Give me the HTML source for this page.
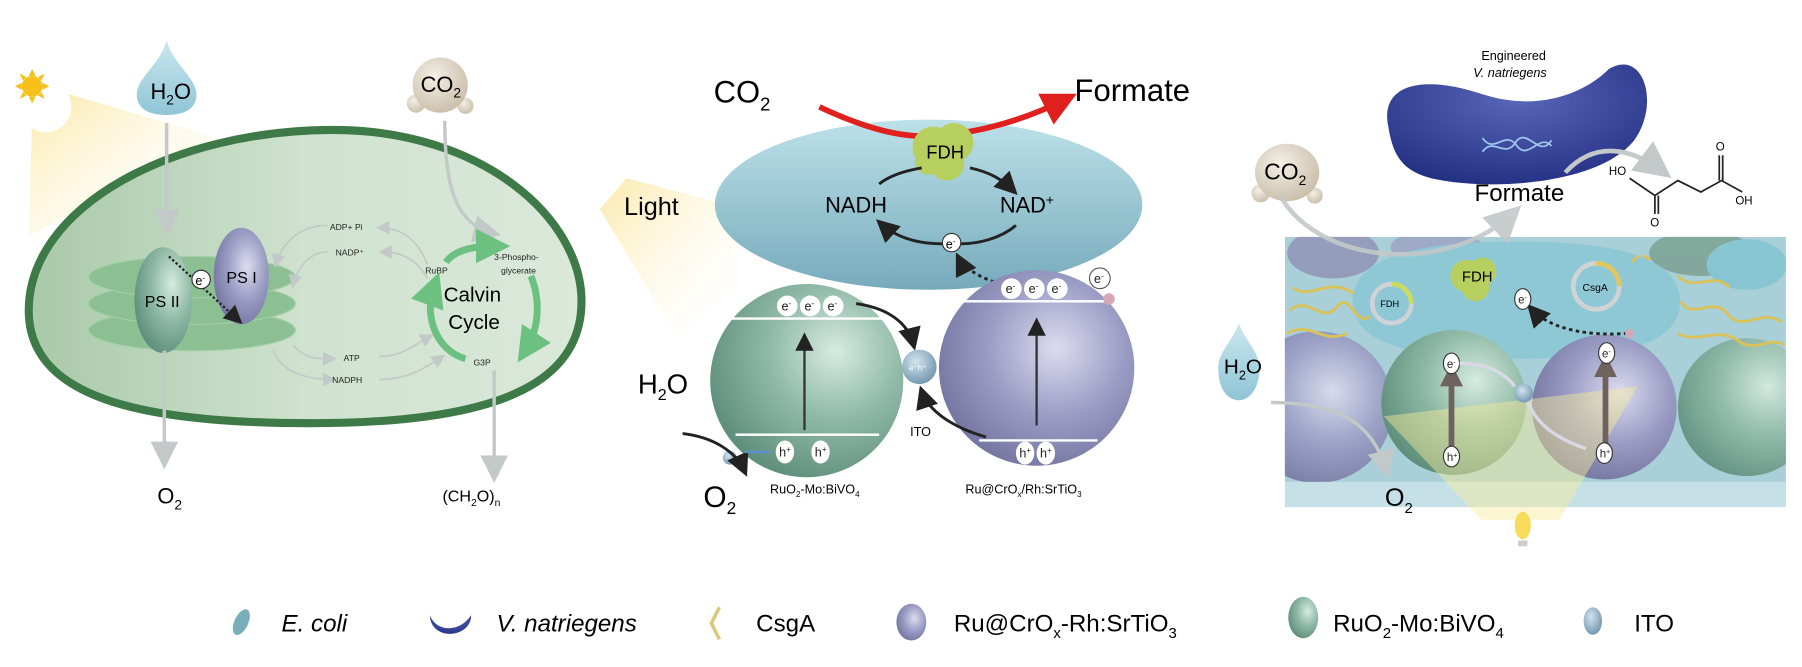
<!DOCTYPE html>
<html><head><meta charset="utf-8"><style>
html,body{margin:0;padding:0;background:#fff;}
svg{display:block;font-family:"Liberation Sans",sans-serif;}
</style></head><body>
<svg width="1802" height="667" viewBox="0 0 1568 580" preserveAspectRatio="none" xmlns="http://www.w3.org/2000/svg">
<defs>
<radialGradient id="gG" cx="0.65" cy="0.35" r="0.7"><stop offset="0" stop-color="#d6ebe0"/><stop offset="0.5" stop-color="#8fb9a6"/><stop offset="1" stop-color="#5f8f7c"/></radialGradient>
<radialGradient id="gP" cx="0.6" cy="0.4" r="0.7"><stop offset="0" stop-color="#dcdcef"/><stop offset="0.5" stop-color="#9a9cc4"/><stop offset="1" stop-color="#6e6f9a"/></radialGradient>
<radialGradient id="gB" cx="0.4" cy="0.35" r="0.7"><stop offset="0" stop-color="#d2e4ef"/><stop offset="1" stop-color="#6f93ad"/></radialGradient>
<linearGradient id="gC" x1="0" y1="0" x2="0" y2="1"><stop offset="0" stop-color="#b9dfe8"/><stop offset="1" stop-color="#6fa6b8"/></linearGradient>
<radialGradient id="gCO" cx="0.4" cy="0.35" r="0.7"><stop offset="0" stop-color="#f4efe6"/><stop offset="1" stop-color="#c9bda8"/></radialGradient>
<linearGradient id="gW" x1="0" y1="0" x2="0" y2="1"><stop offset="0" stop-color="#cbe7ef"/><stop offset="1" stop-color="#8fc5d6"/></linearGradient>
<linearGradient id="gL" x1="0" y1="0" x2="1" y2="1"><stop offset="0" stop-color="#fbe9a8"/><stop offset="1" stop-color="#fff" stop-opacity="0"/></linearGradient>
<linearGradient id="gCell" x1="0" y1="0" x2="1" y2="0"><stop offset="0" stop-color="#a9c9a8"/><stop offset="0.5" stop-color="#cfe2cf"/><stop offset="1" stop-color="#dbe9db"/></linearGradient>
<radialGradient id="gV" cx="0.5" cy="0.3" r="0.8"><stop offset="0" stop-color="#5866b8"/><stop offset="1" stop-color="#1e2a7e"/></radialGradient>
<clipPath id="panel"><rect x="1118" y="206" width="436" height="235"/></clipPath>
<marker id="aG" markerWidth="8" markerHeight="8" refX="6" refY="4" orient="auto"><path d="M0,0L8,4L0,8z" fill="#c3c9c9"/></marker>
<marker id="aK" markerWidth="8" markerHeight="8" refX="6" refY="4" orient="auto"><path d="M0,0L8,4L0,8z" fill="#222"/></marker>
<marker id="aR" markerWidth="6" markerHeight="6" refX="4" refY="3" orient="auto"><path d="M0,0L6,3L0,6z" fill="#e0201f"/></marker>
<marker id="aGr" markerWidth="5" markerHeight="5" refX="3" refY="2.5" orient="auto"><path d="M0,0L5,2.5L0,5z" fill="#6cc080"/></marker>
<marker id="aBr" markerWidth="4" markerHeight="4" refX="2" refY="2" orient="auto"><path d="M0,0L4,2L0,4z" fill="#6e625d"/></marker>
</defs>

<!-- LEFT PANEL -->
<polygon points="28,101 57,81 190,120 25,205" fill="url(#gL)"/>
<circle cx="40" cy="93" r="22" fill="#fff"/>
<g fill="#f6c21a"><circle cx="28" cy="75" r="9"/>
<path d="M28,60l3,6h-6zM28,90l3,-6h-6zM13,75l6,3v-6zM43,75l-6,3v-6zM17,64l6,3l-3,3zM39,86l-6,-3l3,-3zM39,64l-3,6l-3,-3zM17,86l3,-6l3,3z"/></g>
<path d="M145,35 C150,55 171,68 171,82 C171,95 160,100 145,100 C130,100 119,95 119,82 C119,68 140,55 145,35Z" fill="url(#gW)"/>
<text x="131" y="86" font-size="19">H<tspan font-size="12" dy="5">2</tspan><tspan dy="-5">O</tspan></text>
<circle cx="362" cy="90" r="8" fill="url(#gCO)"/><circle cx="405" cy="92" r="7" fill="url(#gCO)"/>
<circle cx="383" cy="74" r="24" fill="url(#gCO)"/>
<text x="366" y="80" font-size="19">CO<tspan font-size="12" dy="5">2</tspan></text>
<path d="M25,270 C25,180 150,113 290,113 C420,113 506,190 506,262 C506,335 430,368 270,368 C120,368 25,345 25,270Z" fill="url(#gCell)" stroke="#3e7a47" stroke-width="7"/>
<line x1="145" y1="107" x2="145" y2="200" stroke="#c3c9c9" stroke-width="3" marker-end="url(#aG)"/>
<path d="M387,105 C387,160 395,195 430,203" fill="none" stroke="#c3c9c9" stroke-width="3" marker-end="url(#aG)"/>
<g fill="#8cbf92" stroke="#a3cfa8" stroke-width="1"><ellipse cx="167" cy="287" rx="90" ry="18"/><ellipse cx="167" cy="264" rx="90" ry="18"/><ellipse cx="167" cy="241" rx="90" ry="18"/></g>
<ellipse cx="142" cy="261" rx="25" ry="46" fill="url(#gG)"/>
<ellipse cx="210" cy="240" rx="24" ry="42" fill="url(#gP)"/>
<text x="126" y="267" font-size="14">PS II</text>
<text x="197" y="246" font-size="14">PS I</text>
<line x1="147" y1="223" x2="208" y2="279" stroke="#222" stroke-width="2" stroke-dasharray="2,2" marker-end="url(#aK)"/>
<circle cx="175" cy="243" r="8" fill="#fff" stroke="#333"/><text x="170" y="248" font-size="11">e<tspan font-size="7" dy="-4">-</tspan></text>
<g fill="none" stroke="#c3c9c9" stroke-width="1.5" marker-end="url(#aG)">
<path d="M372,230 C360,200 340,198 330,198"/><path d="M372,242 C360,222 345,219 332,219"/>
<path d="M285,196 C260,196 245,212 240,230"/><path d="M285,219 C268,219 258,235 255,248"/>
<path d="M255,300 C265,312 275,312 290,312"/><path d="M238,305 C245,325 270,330 290,330"/>
<path d="M330,310 C350,310 360,300 375,292"/><path d="M330,330 C355,330 370,320 385,310"/>
</g>
<g font-size="7.5" fill="#222"><text x="287" y="200">ADP+ Pi</text><text x="292" y="222">NADP⁺</text><text x="299" y="314">ATP</text><text x="289" y="333">NADPH</text>
<text x="370" y="238">RuBP</text><text x="430" y="226">3-Phospho-</text><text x="436" y="238">glycerate</text><text x="412" y="318">G3P</text></g>
<g fill="none" stroke="#6cc080" stroke-width="6" marker-end="url(#aGr)">
<path d="M388,228 C395,218 410,214 432,214"/><path d="M462,240 C470,260 470,285 457,305"/><path d="M405,312 C380,305 368,275 378,248"/></g>
<text x="386" y="262" font-size="18">Calvin</text><text x="390" y="286" font-size="18">Cycle</text>
<line x1="143" y1="305" x2="143" y2="402" stroke="#c3c9c9" stroke-width="3" marker-end="url(#aG)"/>
<line x1="430" y1="322" x2="430" y2="414" stroke="#c3c9c9" stroke-width="3" marker-end="url(#aG)"/>
<text x="137" y="438" font-size="19">O<tspan font-size="12" dy="5">2</tspan></text>
<text x="385" y="436" font-size="14">(CH<tspan font-size="9" dy="4">2</tspan><tspan dy="-4">O)</tspan><tspan font-size="9" dy="4">n</tspan></text>

<!-- MIDDLE PANEL -->
<polygon points="522,182 545,155 640,180 640,250 589,293" fill="url(#gL)"/>
<text x="543" y="187" font-size="22">Light</text>
<text x="621" y="89" font-size="27">CO<tspan font-size="16" dy="7">2</tspan></text>
<text x="935" y="88" font-size="27">Formate</text>
<ellipse cx="808" cy="178" rx="186" ry="74" fill="url(#gC)" opacity="0.95"/>
<path d="M713,93 C760,115 790,120 815,118 C860,115 900,100 928,86" fill="none" stroke="#e0201f" stroke-width="5" marker-end="url(#aR)"/>
<g fill="#b7cf5f"><circle cx="812" cy="128" r="18"/><circle cx="830" cy="124" r="17"/><circle cx="824" cy="142" r="15"/><circle cx="808" cy="140" r="12"/></g>
<text x="806" y="138" font-size="16">FDH</text>
<text x="718" y="185" font-size="19">NADH</text>
<text x="870" y="185" font-size="19">NAD<tspan font-size="12" dy="-7">+</tspan></text>
<g fill="none" stroke="#222" stroke-width="2.5">
<path d="M765,160 C775,152 790,148 802,146"/>
<path d="M844,146 C862,150 872,156 882,166" marker-end="url(#aK)"/>
<path d="M884,196 C870,208 850,212 836,212"/>
<path d="M820,212 C795,212 778,205 766,194" marker-end="url(#aK)"/>
<path d="M865,245 C850,240 838,232 834,224" stroke-dasharray="3,3" marker-end="url(#aK)"/>
</g>
<circle cx="828" cy="211" r="8" fill="#fff" stroke="#333"/><text x="823" y="216" font-size="11">e<tspan font-size="7" dy="-4">-</tspan></text>
<circle cx="702" cy="331" r="84" fill="url(#gG)"/>
<circle cx="902" cy="320" r="85" fill="url(#gP)"/>
<line x1="636" y1="277" x2="770" y2="277" stroke="#fff" stroke-width="2"/>
<line x1="640" y1="378" x2="765" y2="378" stroke="#fff" stroke-width="2"/>
<line x1="838" y1="262" x2="966" y2="262" stroke="#fff" stroke-width="2"/>
<line x1="852" y1="383" x2="955" y2="383" stroke="#fff" stroke-width="2"/>
<line x1="700" y1="374" x2="700" y2="293" stroke="#333" stroke-width="2" marker-end="url(#aK)"/>
<line x1="902" y1="370" x2="902" y2="280" stroke="#333" stroke-width="2" marker-end="url(#aK)"/>
<g font-size="11" fill="#222">
<g><circle cx="685" cy="266" r="9" fill="#fff"/><text x="680" y="270">e<tspan font-size="7" dy="-4">-</tspan></text></g>
<g><circle cx="705" cy="266" r="9" fill="#fff"/><text x="700" y="270">e<tspan font-size="7" dy="-4">-</tspan></text></g>
<g><circle cx="725" cy="266" r="9" fill="#fff"/><text x="720" y="270">e<tspan font-size="7" dy="-4">-</tspan></text></g>
<g><circle cx="880" cy="251" r="9" fill="#fff"/><text x="875" y="255">e<tspan font-size="7" dy="-4">-</tspan></text></g>
<g><circle cx="900" cy="251" r="9" fill="#fff"/><text x="895" y="255">e<tspan font-size="7" dy="-4">-</tspan></text></g>
<g><circle cx="920" cy="251" r="9" fill="#fff"/><text x="915" y="255">e<tspan font-size="7" dy="-4">-</tspan></text></g>
<g><circle cx="957" cy="242" r="9" fill="#fff" stroke="#555"/><text x="952" y="246">e<tspan font-size="7" dy="-4">-</tspan></text></g>
<g><ellipse cx="683" cy="393" rx="8" ry="10" fill="#fff"/><text x="678" y="397">h<tspan font-size="7" dy="-4">+</tspan></text></g>
<g><ellipse cx="714" cy="393" rx="8" ry="10" fill="#fff"/><text x="709" y="397">h<tspan font-size="7" dy="-4">+</tspan></text></g>
<g><ellipse cx="892" cy="394" rx="8" ry="10" fill="#fff"/><text x="887" y="398">h<tspan font-size="7" dy="-4">+</tspan></text></g>
<g><ellipse cx="910" cy="394" rx="8" ry="10" fill="#fff"/><text x="905" y="398">h<tspan font-size="7" dy="-4">+</tspan></text></g>
</g>
<circle cx="965" cy="260" r="5" fill="#d6a8b4"/>
<circle cx="800" cy="319" r="15" fill="url(#gB)"/>
<text x="791" y="322" font-size="7" fill="#fff">e⁻h⁺</text>
<path d="M745,264 C772,268 790,280 795,300" fill="none" stroke="#222" stroke-width="2.5" marker-end="url(#aK)"/>
<path d="M858,380 C830,372 808,358 802,340" fill="none" stroke="#222" stroke-width="2.5" marker-end="url(#aK)"/>
<text x="792" y="379" font-size="11">ITO</text>
<text x="555" y="342" font-size="24">H<tspan font-size="14" dy="6">2</tspan><tspan dy="-6">O</tspan></text>
<circle cx="635" cy="398" r="6" fill="url(#gB)"/>
<path d="M594,377 C620,380 640,392 648,410" fill="none" stroke="#222" stroke-width="2.5" marker-end="url(#aK)"/>
<line x1="648" y1="393" x2="670" y2="393" stroke="#5b8fd0" stroke-width="2"/>
<text x="612" y="441" font-size="26">O<tspan font-size="15" dy="6">2</tspan></text>
<text x="670" y="429" font-size="11">RuO<tspan font-size="7" dy="3">2</tspan><tspan dy="-3">-Mo:BiVO</tspan><tspan font-size="7" dy="3">4</tspan></text>
<text x="840" y="429" font-size="11">Ru@CrO<tspan font-size="7" dy="3">x</tspan><tspan dy="-3">/Rh:SrTiO</tspan><tspan font-size="7" dy="3">3</tspan></text>

<!-- RIGHT PANEL -->
<text x="1289" y="52" font-size="11">Engineered</text>
<text x="1282" y="67" font-size="11" font-style="italic">V. natriegens</text>
<path d="M1208,110 C1200,72 1240,65 1290,82 C1340,98 1380,80 1400,60 C1430,42 1445,90 1422,122 C1392,160 1300,166 1250,156 C1220,150 1212,135 1208,110Z" fill="url(#gV)"/>
<path d="M1290,120 C1300,135 1310,112 1320,127 C1330,140 1340,115 1350,127" fill="none" stroke="#9fc8ee" stroke-width="1.5"/>
<path d="M1290,132 C1300,118 1310,140 1320,122 C1330,112 1340,138 1350,122" fill="none" stroke="#9fc8ee" stroke-width="1.5"/>
<circle cx="1097" cy="168" r="8" fill="url(#gCO)"/><circle cx="1144" cy="170" r="7" fill="url(#gCO)"/>
<ellipse cx="1120" cy="150" rx="28" ry="25" fill="url(#gCO)"/>
<text x="1100" y="156" font-size="20">CO<tspan font-size="12" dy="5">2</tspan></text>
<text x="1283" y="175" font-size="21">Formate</text>
<path d="M1362,150 C1385,125 1415,125 1448,150" fill="none" stroke="#c3c9c9" stroke-width="4" marker-end="url(#aG)"/>
<g stroke="#222" stroke-width="1.5" fill="none"><polyline points="1418,155 1440,170 1460,157 1480,167 1498,157 1516,167"/>
<line x1="1440" y1="170" x2="1440" y2="186"/><line x1="1443" y1="170" x2="1443" y2="186"/>
<line x1="1496" y1="157" x2="1496" y2="135"/><line x1="1499" y1="157" x2="1499" y2="135"/></g>
<g font-size="10"><text x="1400" y="152">HO</text><text x="1510" y="178">OH</text><text x="1493" y="131">O</text><text x="1436" y="197">O</text></g>

<g clip-path="url(#panel)">
<rect x="1118" y="206" width="436" height="235" fill="#a9cfd8"/>
<g opacity="0.8"><ellipse cx="1160" cy="220" rx="40" ry="22" fill="#8f90b5"/><ellipse cx="1480" cy="220" rx="45" ry="20" fill="#7a9e8e"/><ellipse cx="1520" cy="230" rx="35" ry="22" fill="#7fc3d1"/><ellipse cx="1250" cy="215" rx="40" ry="15" fill="#9ba0c2"/></g>
<circle cx="1146" cy="354" r="66" fill="url(#gP)" opacity="0.9"/>
<circle cx="1520" cy="354" r="60" fill="url(#gG)" opacity="0.9"/>
<path d="M1177,262 C1177,225 1230,210 1320,210 C1410,210 1462,225 1462,262 C1462,300 1410,312 1320,312 C1230,312 1177,300 1177,262Z" fill="#8fc8d5"/>
<g fill="none" stroke="#d9c25a" stroke-width="2.5"><path d="M1122,270 C1140,255 1150,285 1165,265 C1175,255 1180,285 1192,275"/><path d="M1120,290 C1140,278 1150,300 1172,290"/><path d="M1125,250 C1140,262 1155,240 1178,255"/><path d="M1462,262 C1475,280 1490,255 1505,275 C1518,288 1532,268 1550,280"/><path d="M1460,290 C1480,300 1495,282 1515,298 C1530,306 1540,292 1552,300"/><path d="M1460,240 C1475,255 1490,235 1505,250"/><path d="M1420,228 l6,-6 M1430,222 l6,4"/></g>
<circle cx="1265" cy="350" r="63" fill="url(#gG)"/>
<circle cx="1396" cy="354" r="63" fill="url(#gP)"/>
<rect x="1118" y="419" width="436" height="22" fill="#c6e0e8"/>
</g>
<polygon points="1289,452 1357,452 1425,336 1204,362" fill="#f6ec9a" opacity="0.45"/>
<circle cx="1211" cy="264" r="17" fill="none" stroke="#d0d3d6" stroke-width="4"/><path d="M1211,247 A17,17 0 0 1 1228,264" fill="none" stroke="#cbdc5a" stroke-width="4"/>
<text x="1201" y="267" font-size="8">FDH</text>
<g fill="#b7cf5f"><circle cx="1276" cy="240" r="14"/><circle cx="1290" cy="236" r="12"/><circle cx="1284" cy="250" r="12"/></g>
<text x="1272" y="245" font-size="13">FDH</text>
<circle cx="1389" cy="249" r="20" fill="none" stroke="#d0d3d6" stroke-width="4"/><path d="M1389,229 A20,20 0 0 1 1409,249" fill="none" stroke="#e2c65a" stroke-width="4"/>
<text x="1377" y="253" font-size="9">CsgA</text>
<path d="M1416,290 C1385,292 1350,288 1332,268" fill="none" stroke="#222" stroke-width="2.5" stroke-dasharray="3,3" marker-end="url(#aK)"/>
<circle cx="1418" cy="290" r="4" fill="#d6a8b4"/>
<line x1="1263" y1="388" x2="1263" y2="326" stroke="#6e625d" stroke-width="5" marker-end="url(#aBr)"/>
<line x1="1397" y1="386" x2="1397" y2="318" stroke="#6e625d" stroke-width="5" marker-end="url(#aBr)"/>
<g font-size="10" fill="#222">
<g><ellipse cx="1325" cy="260" rx="7" ry="9" fill="#fff" stroke="#333"/><text x="1321" y="264">e<tspan font-size="6" dy="-3">-</tspan></text></g>
<g><ellipse cx="1263" cy="316" rx="7" ry="9" fill="#fff" stroke="#333"/><text x="1259" y="320">e<tspan font-size="6" dy="-3">-</tspan></text></g>
<g><ellipse cx="1398" cy="307" rx="7" ry="9" fill="#fff" stroke="#333"/><text x="1394" y="311">e<tspan font-size="6" dy="-3">-</tspan></text></g>
<g><ellipse cx="1263" cy="397" rx="7" ry="9" fill="#fff" stroke="#333"/><text x="1259" y="401">h<tspan font-size="6" dy="-3">+</tspan></text></g>
<g><ellipse cx="1396" cy="394" rx="7" ry="9" fill="#fff" stroke="#333"/><text x="1392" y="398">h<tspan font-size="6" dy="-3">+</tspan></text></g>
</g>
<circle cx="1326" cy="342" r="8" fill="url(#gB)"/>
<path d="M1270,316 C1295,316 1310,325 1318,336" fill="none" stroke="#d8d8e6" stroke-width="3"/>
<path d="M1380,390 C1350,380 1335,365 1330,350" fill="none" stroke="#d8d8e6" stroke-width="3"/>
<path d="M1115,172 C1150,230 1260,240 1318,184" fill="none" stroke="#c3c9c9" stroke-width="4" opacity="0.9" marker-end="url(#aG)"/>
<path d="M1078,281 C1083,296 1096,306 1096,320 C1096,338 1087,348 1078,348 C1068,348 1060,338 1060,320 C1060,306 1073,296 1078,281Z" fill="url(#gW)"/>
<text x="1065" y="325" font-size="18">H<tspan font-size="11" dy="5">2</tspan><tspan dy="-5">O</tspan></text>
<path d="M1106,350 C1160,350 1195,365 1206,410" fill="none" stroke="#c3c9c9" stroke-width="3" marker-end="url(#aG)"/>
<text x="1205" y="440" font-size="22">O<tspan font-size="13" dy="6">2</tspan></text>
<ellipse cx="1325" cy="457" rx="7" ry="12" fill="#f6dc5a"/>
<rect x="1321" y="470" width="8" height="5" fill="#ccc"/>

<!-- LEGEND -->
<ellipse cx="210" cy="541" rx="6" ry="12" fill="#79aeb8" transform="rotate(25 210 541)"/>
<text x="245" y="549" font-size="21" font-style="italic">E. coli</text>
<path d="M374,535 C380,550 400,550 410,535 C410,555 375,558 374,535Z" fill="url(#gV)"/>
<text x="432" y="549" font-size="21" font-style="italic">V. natriegens</text>
<path d="M626,528 L619,542 L626,556" fill="none" stroke="#d9c97a" stroke-width="3"/>
<text x="658" y="549" font-size="21">CsgA</text>
<ellipse cx="793" cy="541" rx="13" ry="16" fill="url(#gP)"/>
<text x="830" y="549" font-size="21">Ru@CrO<tspan font-size="13" dy="6">x</tspan><tspan dy="-6">-Rh:SrTiO</tspan><tspan font-size="13" dy="6">3</tspan></text>
<ellipse cx="1134" cy="537" rx="13" ry="18" fill="url(#gG)"/>
<text x="1160" y="549" font-size="21">RuO<tspan font-size="13" dy="6">2</tspan><tspan dy="-6">-Mo:BiVO</tspan><tspan font-size="13" dy="6">4</tspan></text>
<ellipse cx="1386" cy="540" rx="8" ry="12" fill="url(#gB)"/>
<text x="1422" y="549" font-size="21">ITO</text>
</svg>
</body></html>
